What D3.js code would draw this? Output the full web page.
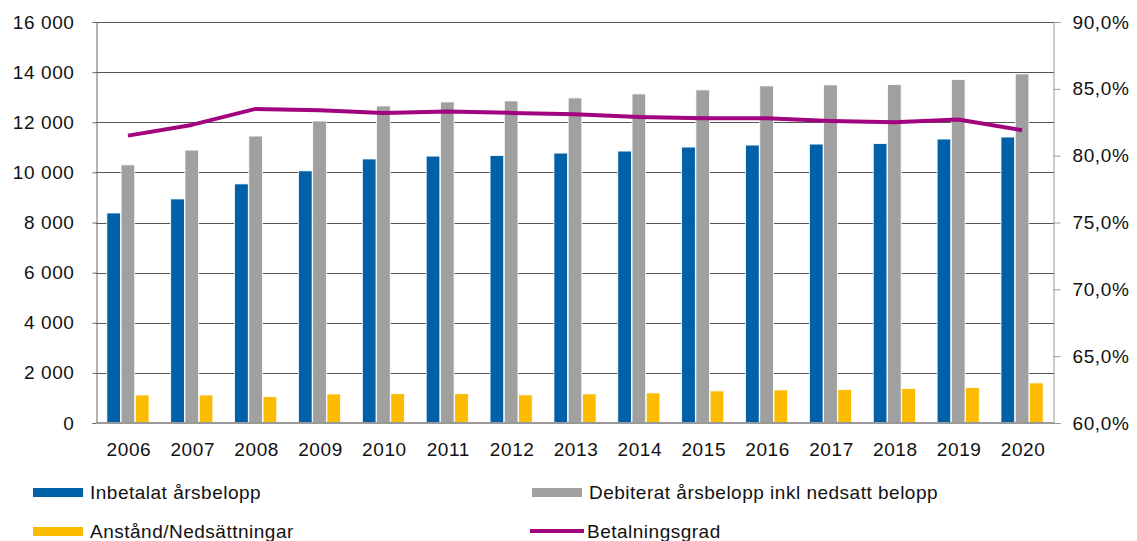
<!DOCTYPE html>
<html>
<head>
<meta charset="utf-8">
<script src="https://cdn.jsdelivr.net/npm/d3@7"></script>
<style>
  body { margin: 0; background: #fff; }
  svg text { font-family: "Liberation Sans", Arial, sans-serif; fill: #111; }
</style>
</head>
<body>
<svg id="chart" width="1137" height="541"></svg>
<script>
// data
var years = ['2006','2007','2008','2009','2010','2011','2012','2013','2014','2015','2016','2017','2018','2019','2020'];
var inbetalat = [8380, 8940, 9540, 10060, 10535, 10650, 10670, 10770, 10850, 11010, 11090, 11130, 11150, 11330, 11410];
var debiterat = [10300, 10890, 11450, 12050, 12650, 12810, 12850, 12970, 13130, 13290, 13450, 13490, 13500, 13700, 13930];
var anstand = [1117, 1117, 1050, 1157, 1170, 1170, 1120, 1160, 1200, 1280, 1320, 1340, 1380, 1420, 1600];
var betalningsgrad = [81.5, 82.3, 83.5, 83.4, 83.2, 83.3, 83.2, 83.1, 82.9, 82.8, 82.8, 82.6, 82.5, 82.7, 81.9];
var leftTicks = [0, 2000, 4000, 6000, 8000, 10000, 12000, 14000, 16000];
var rightTicks = [60, 65, 70, 75, 80, 85, 90];

var seriesNames = ['Inbetalat årsbelopp', 'Debiterat årsbelopp inkl nedsatt belopp', 'Anstånd/Nedsättningar', 'Betalningsgrad'];
var colors = ['#0060a8', '#a0a0a0', '#fbbb00', '#a2037f'];

var svg = d3.select('#chart');
var plotLeft = 96, plotRight = 1054, plotTop = 22, plotBottom = 423;

var x = d3.scaleBand().domain(years).range([plotLeft, plotRight]).paddingInner(0.34).paddingOuter(0.17);
var xs = d3.scaleBand().domain([0, 1, 2]).range([0, x.bandwidth()]).paddingInner(0.04);
var y = d3.scaleLinear().domain([0, 16000]).range([plotBottom, plotTop]);
var y2 = d3.scaleLinear().domain([60, 90]).range([plotBottom, plotTop]);

// grid
svg.append('g').selectAll('line')
  .data(leftTicks.slice(1))
  .enter().append('line')
    .attr('x1', plotLeft).attr('x2', plotRight)
    .attr('y1', function(d){ return Math.round(y(d)) + 0.5; })
    .attr('y2', function(d){ return Math.round(y(d)) + 0.5; })
    .attr('stroke', '#555').attr('stroke-width', 1);

// bars
var groups = [inbetalat, debiterat, anstand];
var barG = svg.append('g');
groups.forEach(function(vals, i){
  barG.selectAll('rect.s' + i)
    .data(vals)
    .enter().append('rect')
      .attr('class', 's' + i)
      .attr('x', function(d, j){ return x(years[j]) + xs(i); })
      .attr('width', xs.bandwidth())
      .attr('y', function(d){ return y(d); })
      .attr('height', function(d){ return plotBottom - y(d); })
      .attr('fill', colors[i])
      .attr('stroke', '#fff').attr('stroke-width', 0.8);
});

// left axis
var yAxis = d3.axisLeft(y).tickValues(leftTicks).tickSize(4).tickPadding(18)
  .tickFormat(function(d){ return d3.format(',')(d).replace(/,/g, ' '); });
var gl = svg.append('g').attr('transform', 'translate(' + (plotLeft + 0.5) + ',0)').call(yAxis);
gl.select('.domain').attr('stroke', '#666');
gl.selectAll('.tick line').attr('stroke', '#666');
gl.selectAll('.tick text').style('font-size', '19px').style('letter-spacing', '0.6px');

// bottom axis line
svg.append('line').attr('x1', plotLeft).attr('x2', plotRight)
  .attr('y1', plotBottom).attr('y2', plotBottom).attr('stroke', '#999').attr('stroke-width', 2);

// right axis
var yAxis2 = d3.axisRight(y2).tickValues(rightTicks).tickSize(7).tickPadding(12)
  .tickFormat(function(d){ return d3.format('.1f')(d).replace('.', ',') + '%'; });
var gr = svg.append('g').attr('transform', 'translate(' + (plotRight - 0.5) + ',0)').call(yAxis2);
gr.select('.domain').attr('stroke', '#999');
gr.selectAll('.tick line').attr('stroke', '#999');
gr.selectAll('.tick text').style('font-size', '19px').style('letter-spacing', '0.6px');

// year labels
svg.append('g').selectAll('text')
  .data(years)
  .enter().append('text')
    .attr('x', function(d){ return x(d) + x.bandwidth() / 2 + 1; })
    .attr('y', 456)
    .attr('text-anchor', 'middle')
    .style('font-size', '19px').style('letter-spacing', '0.6px')
    .text(function(d){ return d; });

// line
var line = d3.line()
  .x(function(d, j){ return x(years[j]) + x.bandwidth() / 2; })
  .y(function(d){ return y2(d); });
svg.append('path').datum(betalningsgrad)
  .attr('d', line)
  .attr('fill', 'none')
  .attr('stroke', colors[3])
  .attr('stroke-width', 4)
  .attr('stroke-linejoin', 'round');

// legend
var legend = [
  {name: seriesNames[0], c: colors[0], x: 33, y: 492, type: 'bar'},
  {name: seriesNames[1], c: colors[1], x: 532, y: 492, type: 'bar'},
  {name: seriesNames[2], c: colors[2], x: 33, y: 531, type: 'bar'},
  {name: seriesNames[3], c: colors[3], x: 530, y: 531, type: 'line'}
];
var lg = svg.append('g').selectAll('g').data(legend).enter().append('g');
lg.filter(function(d){ return d.type == 'bar'; }).append('rect')
  .attr('x', function(d){ return d.x; }).attr('y', function(d){ return d.y - 4; })
  .attr('width', 50).attr('height', 9).attr('fill', function(d){ return d.c; });
lg.filter(function(d){ return d.type == 'line'; }).append('line')
  .attr('x1', function(d){ return d.x; }).attr('x2', function(d){ return d.x + 54; })
  .attr('y1', function(d){ return d.y; }).attr('y2', function(d){ return d.y; })
  .attr('stroke', function(d){ return d.c; }).attr('stroke-width', 4);
lg.append('text')
  .attr('x', function(d){ return d.x + 57; })
  .attr('y', function(d){ return d.y + 7; })
  .style('font-size', '19px').style('letter-spacing', '0.5px')
  .text(function(d){ return d.name; });
</script>
</body>
</html>
